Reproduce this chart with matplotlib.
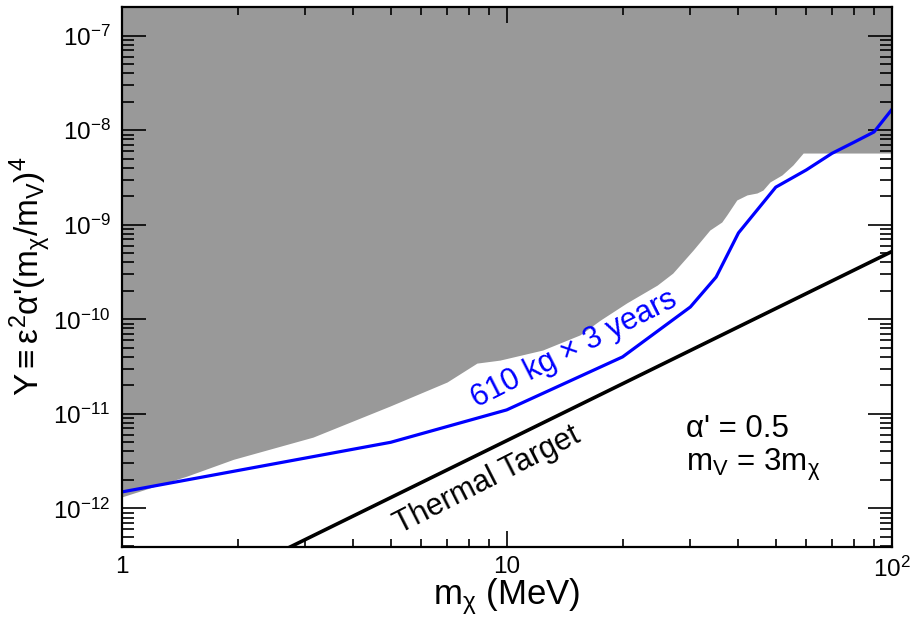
import matplotlib
matplotlib.use('Agg')
import matplotlib.pyplot as plt
from matplotlib.ticker import NullFormatter

plt.rcParams['font.family'] = ['Liberation Sans', 'DejaVu Sans']
plt.rcParams['mathtext.fontset'] = 'custom'
plt.rcParams['mathtext.rm'] = 'Liberation Sans'
plt.rcParams['mathtext.it'] = 'Liberation Sans'
plt.rcParams['mathtext.bf'] = 'Liberation Sans:bold'

# Excluded region (lower edge of the grey band), m_chi in MeV
excl_m = [1.0, 1.48, 1.95, 3.14, 4.98, 7.0, 8.37, 9.6, 12.4, 15.5, 17.5, 20.5,
          24.6, 27.0, 30.5, 33.7, 36.2, 37.3, 39.6, 42.1, 44.7, 46.3, 48.3,
          51.9, 55.4, 58.9, 100.0]
excl_y = [1.32e-12, 2.2e-12, 3.3e-12, 5.67e-12, 1.21e-11, 2.17e-11, 3.44e-11,
          3.7e-11, 4.73e-11, 6.84e-11, 9.8e-11, 1.49e-10, 2.3e-10, 3.08e-10,
          5.4e-10, 8.8e-10, 1.07e-9, 1.27e-9, 1.83e-9, 2.07e-9, 2.17e-9,
          2.33e-9, 2.84e-9, 3.37e-9, 4.29e-9, 5.74e-9, 5.74e-9]

# Projected sensitivity, 610 kg x 3 years
sens_m = [1, 5, 10, 20, 30, 35, 40, 50, 60, 70, 80, 90, 100]
sens_y = [1.49e-12, 5.0e-12, 1.1e-11, 4.0e-11, 1.35e-10, 2.8e-10, 8.2e-10,
          2.5e-9, 3.8e-9, 5.7e-9, 7.5e-9, 9.6e-9, 1.65e-8]

# Thermal relic target
thermal_m = [1, 10, 100]
thermal_y = [5.2e-14, 5.2e-12, 5.2e-10]

xticks = [1, 10, 100]
xtick_labels = ['1', '10', '$10^{2}$']
yticks = [1e-12, 1e-11, 1e-10, 1e-9, 1e-8, 1e-7]
ytick_labels = ['$10^{-12}$', '$10^{-11}$', '$10^{-10}$', '$10^{-9}$',
                '$10^{-8}$', '$10^{-7}$']

fig = plt.figure(figsize=(9.12, 6.18), dpi=100)
ax = fig.add_axes([0.1334, 0.1154, 0.8443, 0.8738])
ax.set_xscale('log')
ax.set_yscale('log')
ax.set_xlim(1, 100)
ax.set_ylim(3.93e-13, 2.03e-7)

ax.fill_between(excl_m, excl_y, 1e-6, color='#999999', lw=0, zorder=1)
ax.plot(sens_m, sens_y, color='#0000ff', lw=2.3, zorder=3)
ax.plot(thermal_m, thermal_y, color='black', lw=2.6, zorder=3)

ax.text(15.0, 4.8e-11, '610 kg × 3 years', color='#0000ff', fontsize=22,
        rotation=27, rotation_mode='anchor', ha='center', va='center')
ax.text(8.9, 2.0e-12, 'Thermal Target', color='black', fontsize=22,
        rotation=27, rotation_mode='anchor', ha='center', va='center')
ax.text(0.733, 0.218, "α' = 0.5", transform=ax.transAxes, fontsize=22.5,
        va='center', ha='left')
ax.text(0.733, 0.151, r'm$_{V}$ = 3m$_{χ}$', transform=ax.transAxes,
        fontsize=22.5, va='center', ha='left')

ax.set_xticks(xticks, xtick_labels)
ax.set_yticks(yticks, ytick_labels)
ax.xaxis.set_minor_formatter(NullFormatter())
ax.yaxis.set_minor_formatter(NullFormatter())
ax.tick_params(which='both', direction='in', top=True, right=True,
               width=1.2, labelsize=17.5)
ax.tick_params(axis='x', which='major', length=11.5, pad=7)
ax.tick_params(axis='x', which='minor', length=6)
ax.tick_params(axis='y', which='major', length=17, pad=8)
ax.tick_params(axis='y', which='minor', length=8.5)
for sp in ax.spines.values():
    sp.set_linewidth(1.6)
    sp.set_zorder(5)

ax.set_xlabel(r'm$_{χ}$ (MeV)', fontsize=25)
ax.xaxis.set_label_coords(0.5, -0.093)
ax.xaxis.label.set_va('center')
ax.set_ylabel(r"Y$\equiv$ε$^{2}$α'(m$_{χ}$/m$_{V}$)$^{4}$", fontsize=24)
ax.yaxis.set_label_coords(-0.118, 0.5)
ax.yaxis.label.set_va('center')

fig.savefig('out.png', dpi=100)
